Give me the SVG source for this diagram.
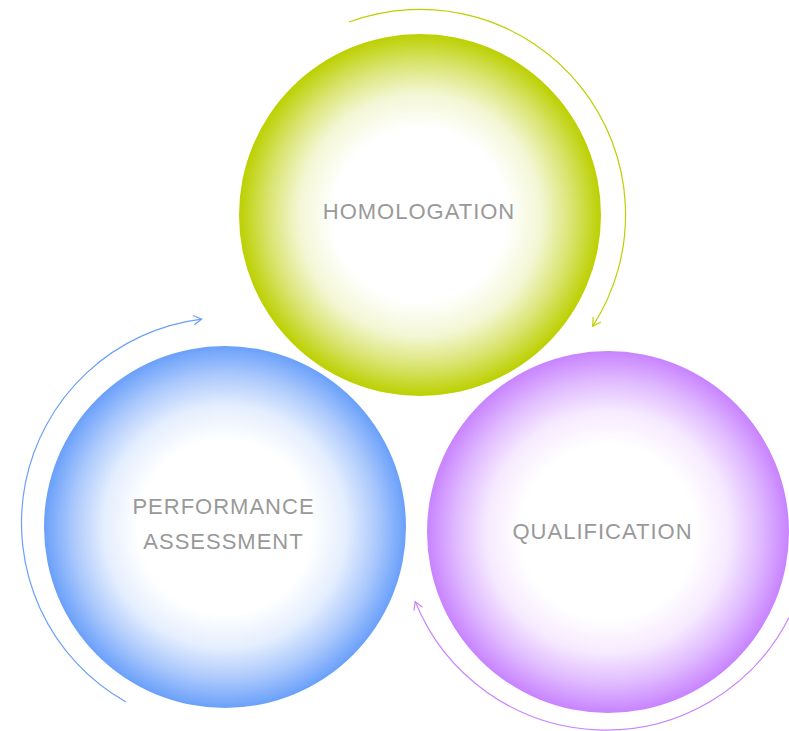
<svg xmlns="http://www.w3.org/2000/svg" width="789" height="731" viewBox="0 0 789 731">
  <style>
    .lbl { font-family: "Liberation Sans", Arial, Helvetica, sans-serif; font-size: 22px; fill: #999999; text-anchor: middle; letter-spacing: 1px; }
    .arc { fill: none; stroke-width: 1.2; }
  </style>
  <defs>
    <radialGradient id="gGreen" cx="0.5" cy="0.5" r="0.5">
      <stop offset="0" stop-color="#ffffff"/>
      <stop offset="0.48" stop-color="#ffffff"/>
      <stop offset="0.67" stop-color="#f3f7d4"/>
      <stop offset="0.84" stop-color="#d9e470"/>
      <stop offset="1" stop-color="#bcd000"/>
    </radialGradient>
    <radialGradient id="gBlue" cx="0.5" cy="0.5" r="0.5">
      <stop offset="0" stop-color="#ffffff"/>
      <stop offset="0.48" stop-color="#ffffff"/>
      <stop offset="0.67" stop-color="#e4eefe"/>
      <stop offset="0.84" stop-color="#acc9fc"/>
      <stop offset="1" stop-color="#6aa0fa"/>
    </radialGradient>
    <radialGradient id="gPurple" cx="0.5" cy="0.5" r="0.5">
      <stop offset="0" stop-color="#ffffff"/>
      <stop offset="0.48" stop-color="#ffffff"/>
      <stop offset="0.67" stop-color="#f6eaff"/>
      <stop offset="0.84" stop-color="#e0baff"/>
      <stop offset="1" stop-color="#c883ff"/>
    </radialGradient>
    <marker id="ahGreen" markerUnits="userSpaceOnUse" orient="auto" refX="0" refY="0" markerWidth="12" markerHeight="12" overflow="visible">
      <path d="M-8,-4.6 L0,0 L-8,4.6" fill="none" stroke="#bcd000" stroke-width="1.2"/>
    </marker>
    <marker id="ahBlue" markerUnits="userSpaceOnUse" orient="auto" refX="0" refY="0" markerWidth="12" markerHeight="12" overflow="visible">
      <path d="M-8,-4.6 L0,0 L-8,4.6" fill="none" stroke="#6aa0fa" stroke-width="1.2"/>
    </marker>
    <marker id="ahPurple" markerUnits="userSpaceOnUse" orient="auto" refX="0" refY="0" markerWidth="12" markerHeight="12" overflow="visible">
      <path d="M-8,-4.6 L0,0 L-8,4.6" fill="none" stroke="#c883ff" stroke-width="1.2"/>
    </marker>
  </defs>

  <g id="connectors">
    <path class="arc" stroke="#bcd000" d="M349,22 A205.5,205.5 0 0 1 592.7,326.3" marker-end="url(#ahGreen)"/>
    <path class="arc" stroke="#6aa0fa" d="M126,702 A205.5,205.5 0 0 1 201.6,319.1" marker-end="url(#ahBlue)"/>
    <path class="arc" stroke="#c883ff" d="M789,617.5 A205.5,205.5 0 0 1 415.2,601.5" marker-end="url(#ahPurple)"/>
  </g>

  <g id="homologation">
    <circle cx="420" cy="215" r="181" fill="url(#gGreen)"/>
    <text class="lbl" x="419" y="219">HOMOLOGATION</text>
  </g>

  <g id="performance-assessment">
    <circle cx="225" cy="527" r="181" fill="url(#gBlue)"/>
    <text class="lbl" x="223.5" y="514">PERFORMANCE</text>
    <text class="lbl" x="223.5" y="549">ASSESSMENT</text>
  </g>

  <g id="qualification">
    <circle cx="608" cy="532" r="181" fill="url(#gPurple)"/>
    <text class="lbl" x="602.5" y="539">QUALIFICATION</text>
  </g>
</svg>
